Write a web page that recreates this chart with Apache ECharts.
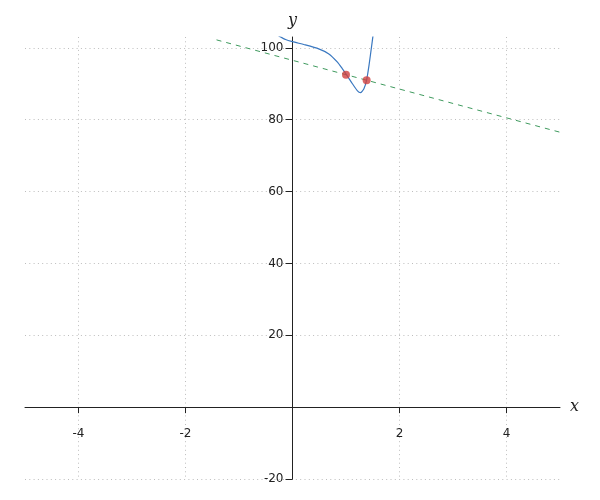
<!DOCTYPE html>
<html>
<head>
<meta charset="utf-8">
<script src="https://cdn.jsdelivr.net/npm/echarts@6/dist/echarts.min.js"></script>
<style>html,body{margin:0;padding:0;background:#fff}#c{width:600px;height:500px}</style>
</head>
<body>
<div id="c"></div>
<script>
const curveX = [-0.26, -0.13, 0, 0.24, 0.49, 0.68, 0.84, 0.93, 1.01, 1.12, 1.21, 1.27, 1.335, 1.386, 1.43, 1.48, 1.505];
const curveY = [103.3, 102.3, 101.7, 100.8, 99.7, 98.3, 96.0, 94.2, 92.5, 90.0, 88.1, 87.5, 88.6, 91.1, 95.1, 100.6, 103.4];
const lineX = [-1.42, 5];
const lineY = [102.2, 76.5];
const ptsX = [1.0, 1.386];
const ptsY = [92.5, 90.95];
const xTicks = [-4, -2, 2, 4];
const yTicks = [-20, 20, 40, 60, 80, 100];

const X_MIN = -5, X_MAX = 5, Y_MIN = -20, Y_MAX = 103;
const G = { left: 25, right: 40, top: 37, bottom: 21 };
const gw = 600 - G.left - G.right, gh = 500 - G.top - G.bottom;
// place axes through the origin
const xOffset = -gh * (0 - Y_MIN) / (Y_MAX - Y_MIN);
const yOffset = -gw * (0 - X_MIN) / (X_MAX - X_MIN);

const chart = echarts.init(document.getElementById('c'));
const labelFont = { fontFamily: 'DejaVu Sans', fontSize: 12, color: '#222' };
chart.setOption({
  animation: false,
  grid: Object.assign({ containLabel: false, outerBoundsMode: 'none' }, G),
  xAxis: {
    type: 'value', min: X_MIN, max: X_MAX, position: 'bottom', offset: xOffset,
    name: 'x', nameLocation: 'end', nameGap: 10,
    nameTextStyle: { fontFamily: 'DejaVu Serif', fontStyle: 'italic', fontSize: 16, color: '#222', verticalAlign: 'middle' },
    axisLine: { onZero: false, lineStyle: { color: '#222', width: 1 } },
    axisTick: { show: true, length: 6, customValues: xTicks, lineStyle: { color: '#222' } },
    axisLabel: Object.assign({ customValues: xTicks, margin: 21 }, labelFont),
    splitLine: { show: true, lineStyle: { type: [1, 3.3], color: '#bdbdbd' } }
  },
  yAxis: {
    type: 'value', min: Y_MIN, max: Y_MAX, position: 'left', offset: yOffset,
    name: 'y', nameLocation: 'end', nameGap: 8,
    nameTextStyle: { fontFamily: 'DejaVu Serif', fontStyle: 'italic', fontSize: 16, color: '#222' },
    axisLine: { onZero: false, lineStyle: { color: '#222', width: 1 } },
    axisTick: { show: true, length: 7, customValues: yTicks, lineStyle: { color: '#222' } },
    axisLabel: Object.assign({ customValues: yTicks, margin: 9 }, labelFont),
    splitLine: { show: true, lineStyle: { type: [1, 3.3], color: '#bdbdbd' } }
  },
  series: [
    {
      type: 'line', data: lineX.map((x, i) => [x, lineY[i]]),
      showSymbol: false, clip: true,
      lineStyle: { color: '#3f9a5e', width: 1, type: [5, 5] }, z: 2
    },
    {
      type: 'line', data: curveX.map((x, i) => [x, curveY[i]]),
      showSymbol: false, smooth: 0.2, clip: true,
      lineStyle: { color: '#3a78c0', width: 1.2 }, z: 3
    },
    {
      type: 'scatter', data: ptsX.map((x, i) => [x, ptsY[i]]),
      symbolSize: 8, itemStyle: { color: '#d04040' }, z: 4
    }
  ]
});
</script>
</body>
</html>
